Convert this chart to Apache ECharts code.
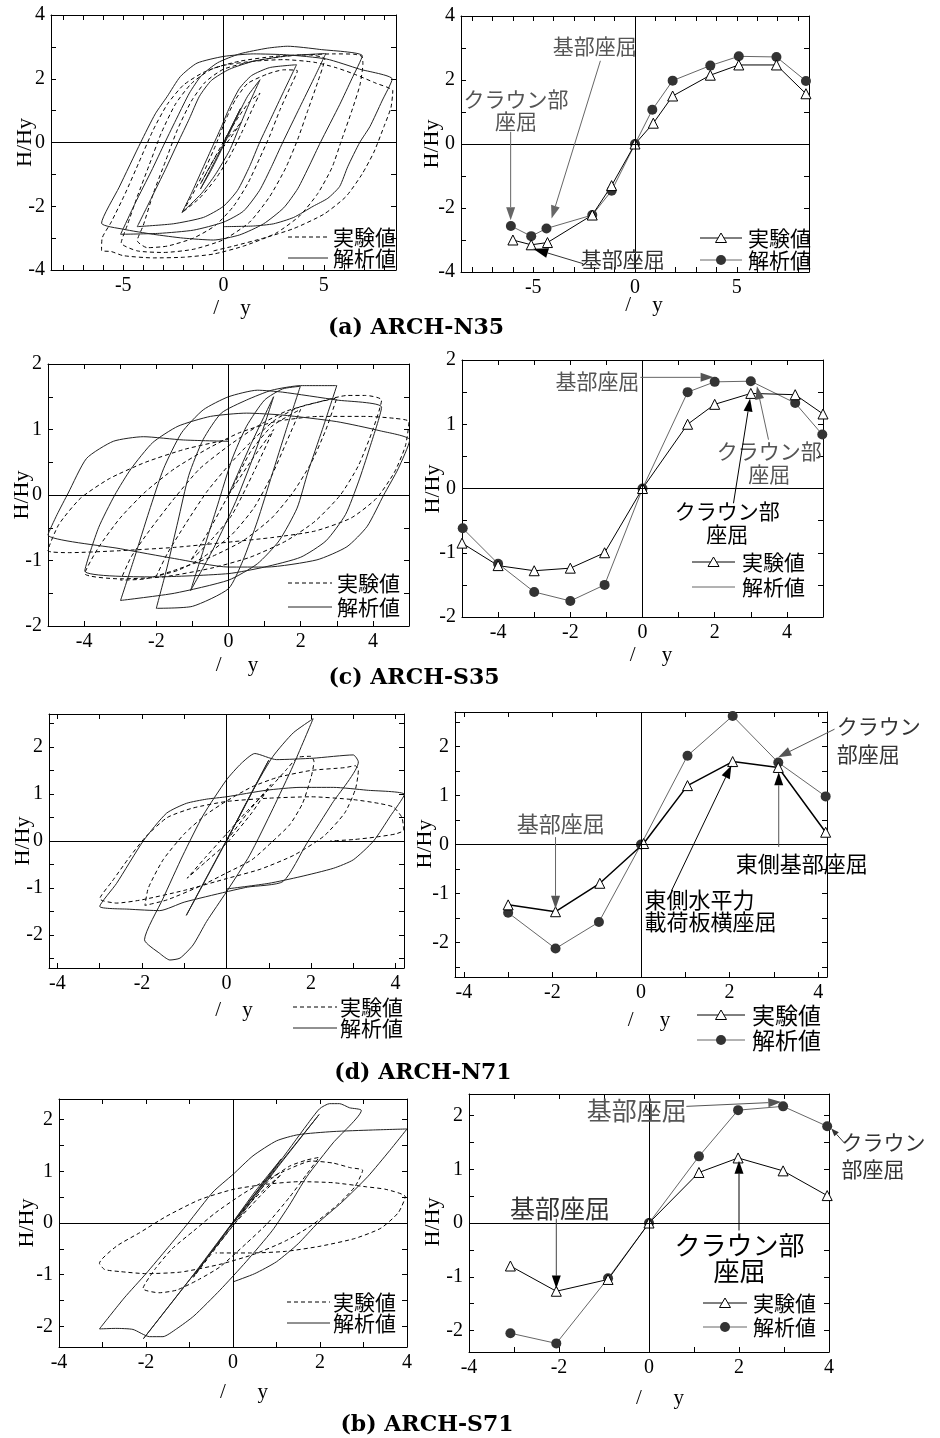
<!DOCTYPE html>
<html><head><meta charset="utf-8">
<script src="https://cdn.jsdelivr.net/npm/echarts@6/dist/echarts.min.js"></script>
<style>html,body{margin:0;padding:0;background:#fff}#c{width:940px;height:1438px}</style>
</head><body><div id="c"></div>
<script>
// ---------------- DATA ----------------
// (a) ARCH-N35 : hysteresis (H/Hy vs δ/δy)
const n35HystExp = [[0,0],[0.5,0.35],[0.9,0.65],[0.3,0.1],[-0.4,-0.45],[-1.15,-1.3],[-0.5,-0.55],[0.2,0.25],[0.8,0.85],[1.3,1.28],[1.82,1.55],
 [1.4,1.0],[0.9,0.3],[0.3,-0.45],[-0.4,-1.15],[-1.2,-1.75],[-2.07,-2.2],
 [-1.6,-1.7],[-1.0,-0.95],[-0.4,-0.1],[0.1,0.7],[0.6,1.35],[1.2,1.85],[2.2,2.15],[3.0,2.28],[3.69,2.25],
 [3.3,1.7],[2.8,1.0],[2.3,0.2],[1.8,-0.5],[1.2,-1.3],[0.5,-2.0],[-0.4,-2.6],[-1.5,-3.0],[-2.8,-3.25],[-3.8,-3.3],[-4.3,-3.08],
 [-4.0,-2.6],[-3.5,-1.6],[-2.9,-0.6],[-2.3,0.4],[-1.6,1.3],[-0.9,1.9],[0,2.3],[1.5,2.55],[3.0,2.7],[4.2,2.75],[5.05,2.62],
 [4.7,1.9],[4.2,1.0],[3.7,0.1],[3.1,-0.8],[2.3,-1.7],[1.3,-2.5],[0,-3.05],[-1.5,-3.35],[-3.0,-3.45],[-4.3,-3.4],[-5.1,-3.15],
 [-4.8,-2.6],[-4.3,-1.7],[-3.7,-0.7],[-3.1,0.3],[-2.4,1.2],[-1.6,1.85],[-0.6,2.3],[0.8,2.55],[2.5,2.7],[4.0,2.75],[5.5,2.78],[6.5,2.77],[6.9,2.7],[6.95,2.47],
 [6.8,1.8],[6.4,1.0],[5.9,0.1],[5.4,-0.8],[4.7,-1.6],[3.8,-2.3],[2.6,-2.85],[1.0,-3.25],[-0.5,-3.5],[-2,-3.6],[-3.5,-3.62],[-5,-3.55],[-5.6,-3.42],[-6.08,-3.39],
 [-6.05,-3.0],[-5.6,-2.5],[-4.9,-1.6],[-4.2,-0.6],[-3.5,0.4],[-2.8,1.2],[-2.0,1.8],[-1.0,2.2],[0,2.42],[1.5,2.55],[3.0,2.6],[4.5,2.52],[5.6,2.35],[6.5,2.15],[7.6,1.86],[8.44,1.62],
 [8.35,1.1],[8.0,0.5],[7.5,-0.3],[6.9,-1.0],[6.1,-1.7],[5.0,-2.25],[3.5,-2.7],[2.0,-3.0],[0.5,-3.25],[-0.5,-3.4]];
const n35HystAna = [[0,0],[0.85,1.07],[0.3,0.35],[-0.4,-0.55],[-1.15,-1.46],[-0.6,-0.85],[0,-0.1],[0.6,0.7],[1.2,1.45],[1.82,1.97],
 [1.3,1.25],[0.8,0.5],[0.3,-0.25],[-0.4,-1.0],[-1.1,-1.6],[-2.07,-2.2],
 [-1.6,-1.6],[-1.1,-0.9],[-0.6,-0.2],[-0.1,0.5],[0.3,1.1],[0.8,1.7],[1.4,2.1],[2.3,2.35],[3.64,2.44],
 [3.0,1.6],[2.4,0.8],[1.8,0.0],[1.3,-0.75],[0.7,-1.5],[0,-2.0],[-1,-2.35],[-2.5,-2.55],[-4.3,-2.64],
 [-3.6,-1.75],[-2.9,-0.85],[-2.27,0],[-1.7,0.75],[-1.2,1.45],[-0.6,1.95],[0.3,2.3],[1.5,2.55],[3.2,2.72],[5.1,2.79],
 [4.5,2.0],[3.8,1.1],[2.95,0],[2.4,-0.75],[1.8,-1.5],[1.0,-2.15],[0,-2.5],[-1.5,-2.75],[-3.2,-2.85],[-5.13,-2.88],
 [-4.4,-1.9],[-3.6,-0.9],[-2.92,0],[-2.3,0.8],[-1.7,1.55],[-1.1,2.1],[-0.3,2.5],[0.8,2.78],[2.2,2.96],[3.2,3.02],[4.8,2.92],[6.92,2.72],
 [6.4,2.0],[5.8,1.2],[4.83,0],[4.3,-0.7],[3.7,-1.45],[3.0,-2.05],[2.0,-2.55],[0.8,-2.9],[-0.5,-3.06],[-2,-3.0],[-3.5,-2.88],[-5,-2.72],[-6.08,-2.53],
 [-5.2,-1.4],[-4.13,0],[-3.4,0.9],[-2.81,1.44],[-2.15,2.07],[-1.32,2.49],[0,2.7],[1.5,2.78],[3.15,2.75],[5.13,2.62],[6.79,2.3],[8.41,1.99],
 [7.9,1.3],[7.3,0.5],[6.79,0],[6.2,-0.75],[5.79,-1.38],[5.2,-1.75],[4.47,-2.0],[3.5,-2.35],[2.5,-2.55],[1.5,-2.62],[0,-2.64],[0,-1.9]];
// (a) ARCH-N35 : peak envelope
const n35EnvExp = [[-6.0,-3.0],[-5.1,-3.15],[-4.3,-3.08],[-2.1,-2.22],[-1.15,-1.3],[0,0],[0.9,0.65],[1.85,1.5],[3.7,2.15],[5.1,2.47],[6.95,2.47],[8.4,1.57]];
const n35EnvAna = [[-6.1,-2.56],[-5.1,-2.88],[-4.35,-2.64],[-2.1,-2.22],[-1.15,-1.46],[0,0],[0.85,1.07],[1.85,1.98],[3.7,2.45],[5.1,2.74],[6.95,2.72],[8.4,1.97]];

// (c) ARCH-S35
const s35HystExp = [[0,0],[0.6,0.5],[1.25,1.0],[0.7,0.35],[0.1,-0.3],[-0.5,-0.7],[-1.05,-1.0],
 [-0.6,-0.6],[0,0],[0.6,0.65],[1.2,1.05],[2.0,1.31],
 [1.6,0.8],[1.2,0.3],[0.7,-0.2],[0.1,-0.6],[-0.7,-0.95],[-1.4,-1.15],[-2.0,-1.24],
 [-1.7,-0.9],[-1.2,-0.45],[-0.6,0.05],[0,0.45],[0.6,0.8],[1.3,1.15],[2.0,1.35],[3.0,1.48],
 [2.7,1.0],[2.3,0.5],[1.8,0.05],[1.2,-0.35],[0.4,-0.7],[-0.5,-0.95],[-1.5,-1.15],[-2.3,-1.28],[-2.99,-1.3],
 [-2.7,-0.95],[-2.2,-0.55],[-1.5,-0.05],[-0.8,0.4],[0,0.75],[0.8,1.05],[1.6,1.28],[2.5,1.42],[3.3,1.52],[3.8,1.52],[4.24,1.45],
 [4.0,1.0],[3.6,0.45],[3.1,0.0],[2.4,-0.4],[1.6,-0.7],[0.6,-0.95],[-0.5,-1.12],[-1.8,-1.25],[-3.0,-1.28],[-3.98,-1.2],
 [-3.6,-0.8],[-3.0,-0.35],[-2.3,0.05],[-1.5,0.4],[-0.6,0.7],[0.3,0.95],[1.3,1.12],[2.5,1.2],[3.8,1.2],[4.6,1.17],[5.0,1.12],
 [4.9,0.75],[4.6,0.35],[4.1,-0.05],[3.4,-0.35],[2.4,-0.55],[1.2,-0.65],[0,-0.72],[-1.5,-0.8],[-3,-0.85],[-4.4,-0.88],[-5.0,-0.85],
 [-4.7,-0.45],[-4.1,-0.05],[-3.3,0.25],[-2.3,0.5],[-1.2,0.7],[0,0.85]];
const s35HystAna = [[0,0],[0.6,0.75],[1.25,1.5],[0.8,0.75],[0.2,-0.1],[-0.4,-0.8],[-1.05,-1.46],
 [-0.7,-0.85],[-0.3,-0.15],[0.1,0.55],[0.5,1.05],[1.0,1.45],[1.5,1.62],[1.99,1.66],
 [1.6,1.0],[1.2,0.3],[0.8,-0.4],[0.4,-1.0],[0,-1.43],[-1.0,-1.7],[-2.0,-1.73],
 [-1.7,-1.1],[-1.4,-0.4],[-1.1,0.3],[-0.7,0.85],[-0.2,1.25],[0.5,1.45],[1.2,1.6],[2.0,1.67],[3.0,1.67],
 [2.6,1.0],[2.2,0.35],[1.9,-0.2],[1.4,-0.7],[0.8,-1.05],[0,-1.3],[-1.5,-1.5],[-2.99,-1.61],
 [-2.6,-0.95],[-2.2,-0.25],[-1.8,0.4],[-1.3,0.95],[-0.7,1.3],[0,1.5],[0.8,1.6],[1.5,1.57],[3.0,1.45],[4.24,1.34],
 [3.9,0.7],[3.6,0.2],[3.24,-0.3],[2.7,-0.7],[2.0,-0.95],[1.0,-1.1],[0,-1.2],[-2.0,-1.25],[-3.98,-1.16],
 [-3.6,-0.5],[-3.15,0.0],[-2.7,0.4],[-2.1,0.8],[-1.4,1.05],[-0.5,1.2],[0.5,1.25],[1.5,1.22],[3.0,1.12],[4.2,0.98],[5.02,0.84],
 [4.7,0.4],[4.3,0],[3.84,-0.48],[3.28,-0.79],[2.45,-0.99],[1.06,-1.1],[0,-1.1],[-1.5,-0.97],[-3.0,-0.82],[-5.0,-0.61],
 [-4.75,-0.3],[-4.44,0.03],[-3.93,0.56],[-3.19,0.82],[-2.36,0.89],[-1.25,0.84],[0,0.82]];
const s35EnvExp = [[-5.0,-0.85],[-4.0,-1.2],[-3.0,-1.28],[-2.0,-1.24],[-1.05,-1.0],[0,0],[1.25,1.0],[2.0,1.31],[3.0,1.48],[4.23,1.46],[5.0,1.16]];
const s35EnvAna = [[-4.98,-0.62],[-4.0,-1.17],[-3.0,-1.61],[-2.0,-1.75],[-1.05,-1.5],[0,0],[1.25,1.5],[2.0,1.66],[3.0,1.67],[4.23,1.33],[4.98,0.84]];

// (d) ARCH-N71
const n71HystExp = [[0,0],[0.5,0.6],[1.05,1.2],[0.6,0.6],[0,-0.05],[-0.5,-0.45],[-0.93,-0.79],[-0.5,-0.35],[0,0.15],[0.5,0.65],[1.0,1.1],[1.4,1.5],[1.7,1.78],[2.0,1.8],[2.07,1.69],
 [2.0,1.35],[1.8,0.8],[1.5,0.35],[1.1,0.0],[0.6,-0.4],[0,-0.68],[-0.6,-0.95],[-1.4,-1.25],[-1.93,-1.37],
 [-1.85,-1.0],[-1.5,-0.4],[-1.0,0.15],[-0.5,0.55],[0,0.85],[0.6,1.15],[1.2,1.35],[2.0,1.5],[2.8,1.56],[3.05,1.6],[3.12,1.5],
 [3.05,1.1],[2.8,0.6],[2.3,0.1],[1.6,-0.3],[0.8,-0.6],[0,-0.8],[-1,-1.05],[-2,-1.25],[-2.6,-1.32],[-3.0,-1.23],
 [-2.7,-0.85],[-2.3,-0.35],[-1.9,0.1],[-1.4,0.5],[-0.8,0.7],[0,0.84],[1.0,0.91],[2.0,0.94],[3.0,0.88],[3.6,0.8],[3.95,0.72],[4.15,0.5],[4.19,0.23],
 [4.0,0.15],[3.5,0.08],[3.0,0.03],[2.45,0.0]];
const n71HystAna = [[0,0],[0.5,0.87],[1.0,1.72],[0.4,0.68],[-0.3,-0.5],[-0.95,-1.58],
 [-0.4,-0.65],[0.2,0.35],[0.67,1.15],[1.1,1.8],[1.58,2.3],[2.05,2.6],
 [1.58,1.61],[1.1,0.69],[0.55,-0.3],[0,-1.08],[-0.47,-1.71],[-0.79,-2.21],[-1.1,-2.49],[-1.34,-2.53],[-1.58,-2.39],[-1.94,-2.1],
 [-1.5,-1.22],[-1.03,-0.3],[-0.55,0.55],[0,1.3],[0.35,1.65],[0.67,1.86],[1.18,1.73],[2.05,1.76],[3.0,1.83],[3.12,1.68],
 [2.5,0.8],[1.9,-0.05],[1.34,-0.86],[0.5,-0.98],[0,-1.08],[-1.0,-1.3],[-1.58,-1.48],[-2.3,-1.45],[-3.0,-1.39],
 [-2.6,-0.9],[-1.97,0],[-1.42,0.59],[-0.95,0.8],[-0.47,0.89],[0,0.94],[0.95,1.08],[1.74,1.14],[2.53,1.14],[3.32,1.08],[4.21,0.99],
 [3.87,0.52],[3.48,0],[3.0,-0.4],[2.53,-0.58],[1.74,-0.76],[1.0,-0.9],[0,-1.02]];
const n71EnvExp = [[-3.0,-1.23],[-1.93,-1.37],[-0.93,-0.79],[0.06,0.02],[1.05,1.2],[2.07,1.69],[3.1,1.57],[4.17,0.25]];
const n71EnvAna = [[-3.0,-1.39],[-1.93,-2.12],[-0.95,-1.58],[0,0],[1.05,1.81],[2.07,2.62],[3.1,1.67],[4.17,0.98]];

// (b) ARCH-S71
const s71HystExp = [[0,0],[0.5,0.48],[1.11,0.94],[0.6,0.5],[0,-0.05],[-0.5,-0.6],[-0.91,-1.05],[-0.4,-0.45],[0.2,0.2],[0.8,0.8],[1.3,1.1],[1.7,1.22],[1.98,1.27],
 [1.7,0.95],[1.3,0.5],[0.8,0.0],[0.3,-0.4],[-0.3,-0.85],[-0.8,-1.1],[-1.3,-1.3],[-1.7,-1.35],[-2.07,-1.27],
 [-1.8,-0.9],[-1.4,-0.5],[-0.9,-0.15],[-0.4,0.2],[0.2,0.55],[0.8,0.85],[1.3,1.05],[1.8,1.2],[2.3,1.16],[2.7,1.07],[2.98,1.02],
 [2.8,0.7],[2.4,0.35],[1.8,-0.05],[1.2,-0.35],[0.5,-0.6],[-0.3,-0.8],[-1.2,-0.95],[-2.0,-0.98],[-2.6,-0.94],[-2.95,-0.9],[-3.07,-0.78],
 [-2.68,-0.45],[-2.15,-0.19],[-1.53,0.13],[-0.77,0.45],[0,0.65],[0.77,0.75],[1.53,0.8],[2.3,0.78],[3.07,0.7],[3.52,0.65],[3.96,0.51],
 [3.8,0.2],[3.4,-0.1],[2.8,-0.3],[2.0,-0.45],[1.2,-0.55],[0.4,-0.58],[-0.4,-0.58]];
const s71HystAna = [[0,0],[0.5,0.55],[1.11,1.24],[0.5,0.6],[-0.4,-0.45],[-0.91,-1.03],[0,0.0],[1,1.07],[1.98,2.1],[1.0,1.05],[0,-0.05],[-1,-1.1],[-2.06,-2.24],
 [-1,-1.1],[0,0.02],[1,1.1],[1.7,1.9],[1.99,2.21],[2.22,2.31],[2.45,2.31],[2.68,2.23],[2.95,2.18],
 [2.3,1.55],[1.7,0.9],[1.3,0.35],[0.9,-0.15],[0.3,-0.75],[-0.3,-1.3],[-0.9,-1.8],[-1.3,-2.05],[-1.61,-2.2],[-1.92,-2.2],[-2.3,-2.06],[-2.7,-2.04],[-3.07,-2.05],
 [-2.5,-1.45],[-2.0,-0.98],[-1.5,-0.48],[-1.03,0],[-0.46,0.6],[0,0.94],[0.46,1.3],[1.0,1.59],[1.5,1.71],[2.3,1.77],[3.2,1.8],[4.0,1.82],
 [3.6,1.4],[3.1,0.9],[2.5,0.4],[1.95,0],[1.5,-0.4],[1.0,-0.75],[0.5,-0.98],[0,-1.14]];
const s71EnvExp = [[-3.08,-0.8],[-2.06,-1.27],[-0.91,-1.05],[0,0],[1.11,0.94],[1.98,1.21],[2.98,0.97],[3.96,0.51]];
const s71EnvAna = [[-3.08,-2.05],[-2.06,-2.24],[-0.91,-1.03],[0,0],[1.11,1.24],[1.98,2.1],[2.98,2.17],[3.96,1.8]];

// tick labels
const n35XLabels = [-5,0,5], n35YLabels = [-4,-2,0,2,4];
const s35XLabels = [-4,-2,0,2,4], s35YLabels = [-2,-1,0,1,2];
const n71XLabels = [-4,-2,0,2,4], n71YLabels = [-2,-1,0,1,2];
const s71XLabels = [-4,-2,0,2,4], s71YLabels = [-2,-1,0,1,2];

const titles = ['(a) ARCH-N35','(c) ARCH-S35','(d) ARCH-N71','(b) ARCH-S71'];
const legendNames = ['実験値','解析値'];
const yName = 'H/Hy';

// ---------------- LAYOUT ----------------
const panels = [
 {grid:{left:51,top:15,width:345,height:255}, x:[-8.6,8.6], xt:1, xl:n35XLabels, y:[-4,4], yt:1, yl:n35YLabels, s:[['dash',n35HystExp],['solid',n35HystAna]]},
 {grid:{left:461,top:16,width:348,height:256}, x:[-8.55,8.55], xt:1, xl:n35XLabels, y:[-4,4], yt:1, yl:n35YLabels, s:[['dot',n35EnvAna],['tri',n35EnvExp]]},
 {grid:{left:48,top:364,width:361,height:262}, x:[-5,5], xt:1, xl:s35XLabels, y:[-2,2], yt:0.5, yl:s35YLabels, s:[['dash',s35HystExp],['solid',s35HystAna]]},
 {grid:{left:462,top:360,width:361,height:257}, x:[-5,5], xt:1, xl:s35XLabels, y:[-2,2], yt:0.5, yl:s35YLabels, s:[['dot',s35EnvAna],['tri',s35EnvExp]]},
 {grid:{left:49,top:714,width:355,height:254}, x:[-4.2,4.2], xt:1, xl:n71XLabels, y:[-2.7,2.7], yt:0.5, yl:n71YLabels, s:[['dash',n71HystExp],['solid',n71HystAna]]},
 {grid:{left:455,top:712,width:372,height:265}, x:[-4.2,4.2], xt:1, xl:n71XLabels, y:[-2.7,2.7], yt:0.5, yl:n71YLabels, s:[['dot',n71EnvAna],['triB',n71EnvExp]]},
 {grid:{left:59,top:1099,width:348,height:248}, x:[-4,4], xt:1, xl:s71XLabels, y:[-2.4,2.4], yt:0.5, yl:s71YLabels, s:[['dash',s71HystExp],['solid',s71HystAna]]},
 {grid:{left:469,top:1094,width:360,height:258}, x:[-4,4], xt:1, xl:s71XLabels, y:[-2.4,2.4], yt:0.5, yl:s71YLabels, s:[['dot',s71EnvAna],['tri',s71EnvExp]]},
];

const SERIF = 'Liberation Serif, serif';
const JP = 'Noto Sans CJK JP, sans-serif';

function tickVals(a,b,step){const r=[];for(let k=Math.ceil(a/step-1e-9);k*step<=b+1e-9;k++)r.push(+(k*step).toFixed(6));return r;}
function fmtFor(list){return v=>{for(const t of list){if(Math.abs(t-v)<1e-6)return String(t);}return '';};}

const grids=[],xAxes=[],yAxes=[],series=[],firstSeries=[];
panels.forEach((p,i)=>{
  grids.push(Object.assign({containLabel:false},p.grid));
  const xt=tickVals(p.x[0],p.x[1],p.xt), yt=tickVals(p.y[0],p.y[1],p.yt);
  const line={onZero:false,lineStyle:{color:'#000',width:1}};
  const tick=(vals)=>({inside:true,length:5,lineStyle:{color:'#000',width:1},customValues:vals});
  const lab=(list)=>({customValues:list,formatter:fmtFor(list),fontFamily:SERIF,fontSize:20,color:'#000',margin:6,showMinLabel:true,showMaxLabel:true});
  const xs=Math.round((p.x[1]-p.x[0])/p.xt), ys=Math.round((p.y[1]-p.y[0])/p.yt);
  xAxes.push({type:'value',gridIndex:i,position:'bottom',min:p.x[0],max:p.x[1],splitNumber:xs,splitLine:{show:false},axisLine:line,axisTick:tick(xt),axisLabel:lab(p.xl)});
  xAxes.push({type:'value',gridIndex:i,position:'top',min:p.x[0],max:p.x[1],splitNumber:xs,splitLine:{show:false},axisLine:line,axisTick:tick(xt),axisLabel:{show:false}});
  yAxes.push({type:'value',gridIndex:i,position:'left',min:p.y[0],max:p.y[1],splitNumber:ys,splitLine:{show:false},axisLine:line,axisTick:tick(yt),axisLabel:lab(p.yl)});
  yAxes.push({type:'value',gridIndex:i,position:'right',min:p.y[0],max:p.y[1],splitNumber:ys,splitLine:{show:false},axisLine:line,axisTick:tick(yt),axisLabel:{show:false}});
  p.s.forEach((d,j)=>{
    const kind=d[0];
    const s={type:'line',xAxisIndex:2*i,yAxisIndex:2*i,data:d[1],animation:false,silent:true,clip:true};
    if(kind==='dash'){Object.assign(s,{name:legendNames[0],symbol:'none',smooth:0.2,lineStyle:{color:'#000',width:1,type:[4,3]}});}
    else if(kind==='solid'){Object.assign(s,{name:legendNames[1],symbol:'none',smooth:0.2,lineStyle:{color:'#222',width:1}});}
    else if(kind==='dot'){Object.assign(s,{name:legendNames[1],symbol:'circle',symbolSize:10,itemStyle:{color:'#333'},lineStyle:{color:'#666',width:1}});}
    else {Object.assign(s,{name:legendNames[0],symbol:'triangle',symbolSize:10,itemStyle:{color:'#fff',borderColor:'#000',borderWidth:1},lineStyle:{color:'#000',width:kind==='triB'?1.5:1},z:3});}
    if(j===0){
      s.markLine={silent:true,symbol:['none','none'],label:{show:false},animation:false,
        lineStyle:{color:'#000',width:1,type:'solid'},emphasis:{disabled:true},data:[{xAxis:0},{yAxis:0}]};
      firstSeries[i]=series.length;
    }
    series.push(s);
  });
});

const chart=echarts.init(document.getElementById('c'),null,{renderer:'canvas',width:940,height:1438});
chart.setOption({animation:false,backgroundColor:'#fff',grid:grids,xAxis:xAxes,yAxis:yAxes,series:series});

// ---------------- ANNOTATIONS (data-anchored) ----------------
const notes = [
 {p:1,text:'基部座屈',at:[-1.98,3.06],color:'#555',size:21},
 {p:1,arrow:[[-1.70,2.60],[-4.10,-2.33]],color:'#666',head:'#666'},
 {p:1,text:'クラウン部\n座屈',at:[-5.85,1.06],color:'#555',size:21,lh:22},
 {p:1,arrow:[[-6.11,0.38],[-6.11,-2.38]],color:'#666',head:'#666'},
 {p:1,text:'基部座屈',at:[-0.6,-3.6],color:'#333',size:21},
 {p:1,arrow:[[-2.55,-3.74],[-5.0,-3.27]],color:'#333',head:'#000',L:15,W:5},
 {p:3,text:'基部座屈',at:[-1.25,1.67],color:'#555',size:21},
 {p:3,arrow:[[-0.06,1.73],[1.97,1.73]],color:'#666',head:'#555'},
 {p:3,text:'クラウン部\n座屈',at:[3.51,0.40],color:'#555',size:21,lh:23},
 {p:3,arrow:[[3.49,0.76],[3.17,1.59]],color:'#666',head:'#555'},
 {p:3,text:'クラウン部\n座屈',at:[2.35,-0.53],color:'#000',size:21,lh:23},
 {p:3,arrow:[[2.52,-0.23],[2.98,1.40]],color:'#000',head:'#000'},
 {p:5,text:'基部座屈',at:[-1.81,0.43],color:'#555',size:22},
 {p:5,arrow:[[-1.93,0.15],[-1.93,-1.31]],color:'#666',head:'#555'},
 {p:5,text:'クラウン\n部座屈',at:[4.42,2.12],color:'#333',size:21,lh:28,align:'left'},
 {p:5,arrow:[[4.37,2.35],[3.10,1.78]],color:'#555',head:'#555'},
 {p:5,text:'東側基部座屈',at:[3.63,-0.39],color:'#000',size:22},
 {p:5,arrow:[[3.11,-0.05],[3.11,1.47]],color:'#555',head:'#000'},
 {p:5,text:'東側水平力\n載荷板横座屈',at:[0.08,-1.34],color:'#000',size:22,lh:22,align:'left'},
 {p:5,arrow:[[0.69,-0.94],[2.04,1.61]],color:'#000',head:'#000'},
 {p:7,text:'基部座屈',at:[-0.27,2.09],color:'#555',size:25},
 {p:7,arrow:[[0.83,2.17],[2.94,2.25]],color:'#555',head:'#555'},
 {p:7,text:'クラウン\n部座屈',at:[4.28,1.25],color:'#333',size:21,lh:27,align:'left'},
 {p:7,arrow:[[4.35,1.48],[4.05,1.76]],color:'#333',head:'#333',L:8,W:3},
 {p:7,text:'基部座屈',at:[-1.98,0.27],color:'#333',size:25},
 {p:7,arrow:[[-2.06,0.08],[-2.06,-1.22]],color:'#444',head:'#000'},
 {p:7,text:'クラウン部\n座屈',at:[2.01,-0.66],color:'#000',size:26,lh:26},
 {p:7,arrow:[[2.0,-0.14],[2.0,1.16]],color:'#000',head:'#000'},
];

const G=[];
function T(x,y,text,size,family,color,align,extra){
  const e={type:'text',x:x,y:y,silent:true,z:100,style:{text:text,fontSize:size,fontFamily:family,fill:color,textAlign:align||'center',textVerticalAlign:'middle'}};
  if(extra&&extra.rotation)e.rotation=extra.rotation;
  if(extra&&extra.lh)e.style.lineHeight=extra.lh;
  G.push(e);
}
function A(p1,p2,color,head,L,W,lw){
  L=L||13;W=W||4.5;lw=lw||1;
  const dx=p2[0]-p1[0],dy=p2[1]-p1[1],len=Math.hypot(dx,dy),ux=dx/len,uy=dy/len;
  const bx=p2[0]-ux*L,by=p2[1]-uy*L;
  G.push({type:'line',silent:true,z:100,shape:{x1:p1[0],y1:p1[1],x2:bx,y2:by},style:{stroke:color,lineWidth:lw}});
  G.push({type:'polygon',silent:true,z:100,shape:{points:[[p2[0],p2[1]],[bx-uy*W,by+ux*W],[bx+uy*W,by-ux*W]]},style:{fill:head}});
}
const px=(i,pt)=>chart.convertToPixel({seriesIndex:firstSeries[i]},pt);
notes.forEach(n=>{
  if(n.text){const q=px(n.p,n.at);T(q[0],q[1],n.text,n.size,JP,n.color,n.align,n.lh?{lh:n.lh}:null);}
  else {A(px(n.p,n.arrow[0]),px(n.p,n.arrow[1]),n.color,n.head,n.L,n.W);}
});

// legends
function legLine(x1,x2,y,kind){
  const st={stroke:'#000',lineWidth:1};
  if(kind==='dash')st.lineDash=[4,3];
  if(kind==='solid')st.stroke='#222';
  if(kind==='ana'||kind==='anaNo')st.stroke='#666';
  G.push({type:'line',silent:true,z:100,shape:{x1:x1,y1:y,x2:x2,y2:y},style:st});
  const cx=(x1+x2)/2;
  if(kind==='exp')G.push({type:'polygon',silent:true,z:101,shape:{points:[[cx,y-5],[cx+5.5,y+4.5],[cx-5.5,y+4.5]]},style:{fill:'#fff',stroke:'#000',lineWidth:1}});
  if(kind==='ana')G.push({type:'circle',silent:true,z:101,shape:{cx:cx,cy:y,r:5},style:{fill:'#333'}});
}
const legends=[
 {x1:288,x2:328,tx:333,y:[237,258],k:['dash','solid'],fs:21},
 {x1:700,x2:742,tx:748,y:[238,260],k:['exp','ana'],fs:21},
 {x1:288,x2:332,tx:337,y:[583,607],k:['dash','solid'],fs:21},
 {x1:692,x2:735,tx:742,y:[562,587],k:['exp','anaNo'],fs:21},
 {x1:293,x2:337,tx:340,y:[1007,1028],k:['dash','solid'],fs:21},
 {x1:697,x2:745,tx:752,y:[1015,1040],k:['exp','ana'],fs:23},
 {x1:287,x2:330,tx:333,y:[1302,1323],k:['dash','solid'],fs:21},
 {x1:703,x2:747,tx:753,y:[1303,1327],k:['exp','ana'],fs:21},
];
legends.forEach(l=>{
  for(let r=0;r<2;r++){legLine(l.x1,l.x2,l.y[r],l.k[r]);T(l.tx,l.y[r],legendNames[r],l.fs,JP,'#000','left');}
});

// axis titles
const xTitles=[[232,308,'/    y'],[644,305,'/    y'],[237,665,'/     y'],[651,655,'/     y'],[234,1010,'/    y'],[649,1020,'/     y'],[244,1392,'/      y'],[660,1398,'/      y']];
xTitles.forEach(t=>T(t[0],t[1],t[2],21,SERIF,'#000','center'));
const yTitles=[[25,142.5],[432,144],[22,495],[433,489],[23,841],[425,844],[27,1223],[433,1222]];
yTitles.forEach(t=>T(t[0],t[1],yName,22,SERIF,'#000','center',{rotation:Math.PI/2}));

// panel titles
const titlePos=[[416,328],[414,678],[423,1073],[427,1425]];
titles.forEach((t,i)=>G.push({type:'text',x:titlePos[i][0],y:titlePos[i][1],silent:true,z:100,style:{text:t,fontSize:22,fontWeight:'bold',fontFamily:'DejaVu Serif, serif',fill:'#000',textAlign:'center',textVerticalAlign:'middle'}}));

chart.setOption({graphic:{elements:G}});
</script>
</body></html>
